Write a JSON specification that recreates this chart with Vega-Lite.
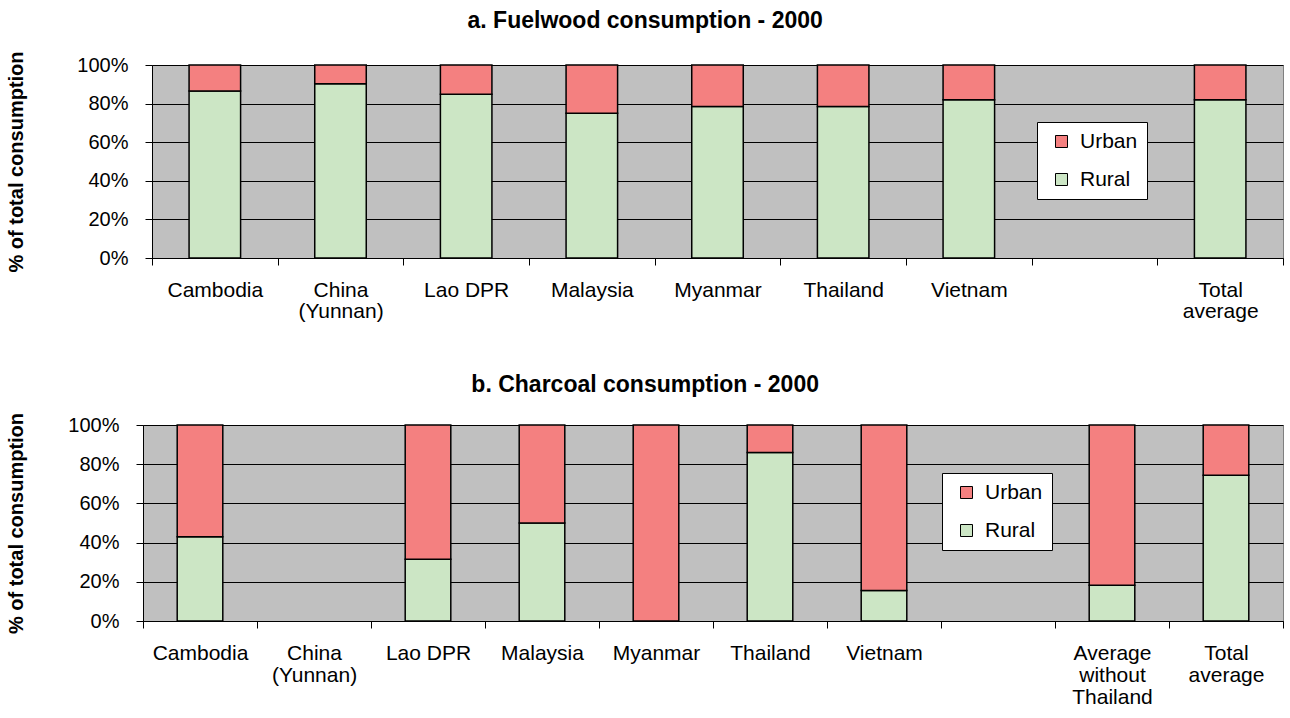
{
  "$schema": "https://vega.github.io/schema/vega-lite/v6.json",
  "padding": {"left": 6, "top": 9, "right": 4, "bottom": 4},
  "background": "white",
  "config": {
    "font": "Liberation Sans",
    "view": {"fill": "#C0C0C0", "stroke": "#808080", "strokeWidth": 1},
    "axis": {
      "labelFont": "Liberation Sans", "labelFontSize": 20, "labelColor": "black",
      "domainColor": "black", "tickColor": "black", "titleColor": "black",
      "titleFont": "Liberation Sans", "titleFontSize": 20, "titleFontWeight": "bold"
    }
  },
  "datasets": {
    "fuelwood": [
      {"country": "Cambodia", "area": "Rural", "share": 86.5},
      {"country": "Cambodia", "area": "Urban", "share": 13.5},
      {"country": "China (Yunnan)", "area": "Rural", "share": 90.3},
      {"country": "China (Yunnan)", "area": "Urban", "share": 9.7},
      {"country": "Lao DPR", "area": "Rural", "share": 84.8},
      {"country": "Lao DPR", "area": "Urban", "share": 15.2},
      {"country": "Malaysia", "area": "Rural", "share": 75},
      {"country": "Malaysia", "area": "Urban", "share": 25},
      {"country": "Myanmar", "area": "Rural", "share": 78.5},
      {"country": "Myanmar", "area": "Urban", "share": 21.5},
      {"country": "Thailand", "area": "Rural", "share": 78.5},
      {"country": "Thailand", "area": "Urban", "share": 21.5},
      {"country": "Vietnam", "area": "Rural", "share": 82},
      {"country": "Vietnam", "area": "Urban", "share": 18},
      {"country": "Total average", "area": "Rural", "share": 82},
      {"country": "Total average", "area": "Urban", "share": 18}
    ],
    "charcoal": [
      {"country": "Cambodia", "area": "Rural", "share": 43},
      {"country": "Cambodia", "area": "Urban", "share": 57},
      {"country": "Lao DPR", "area": "Rural", "share": 31.5},
      {"country": "Lao DPR", "area": "Urban", "share": 68.5},
      {"country": "Malaysia", "area": "Rural", "share": 50},
      {"country": "Malaysia", "area": "Urban", "share": 50},
      {"country": "Myanmar", "area": "Rural", "share": 0},
      {"country": "Myanmar", "area": "Urban", "share": 100},
      {"country": "Thailand", "area": "Rural", "share": 86},
      {"country": "Thailand", "area": "Urban", "share": 14},
      {"country": "Vietnam", "area": "Rural", "share": 15.5},
      {"country": "Vietnam", "area": "Urban", "share": 84.5},
      {"country": "Average without Thailand", "area": "Rural", "share": 18.2},
      {"country": "Average without Thailand", "area": "Urban", "share": 81.8},
      {"country": "Total average", "area": "Rural", "share": 74.4},
      {"country": "Total average", "area": "Urban", "share": 25.6}
    ]
  },
  "spacing": 51,
  "resolve": {"scale": {"color": "independent"}, "legend": {"color": "independent"}},
  "vconcat": [
    {
      "spacing": 0,
      "bounds": "flush",
      "hconcat": [
        {
          "width": 9,
          "height": 1,
          "view": {"fill": null, "stroke": null},
          "data": {"values": []},
          "mark": "rect",
          "encoding": {}
        },
        {
          "width": 1131,
          "height": 193,
          "title": {"text": "a. Fuelwood consumption - 2000", "fontSize": 23, "fontWeight": "bold", "anchor": "middle", "frame": "bounds", "baseline": "alphabetic", "offset": 0, "color": "black", "font": "Liberation Sans"},
          "data": {"name": "fuelwood"},
          "mark": {"type": "bar", "width": {"band": 0.41}, "stroke": "black", "strokeWidth": 1.5},
          "encoding": {
            "x": {
              "field": "country", "type": "nominal",
              "scale": {"domain": ["Cambodia", "China (Yunnan)", "Lao DPR", "Malaysia", "Myanmar", "Thailand", "Vietnam", " ", "Total average"], "paddingInner": 0, "paddingOuter": 0},
              "axis": {"title": null, "labelAngle": 0, "labelFontSize": 21, "tickBand": "extent", "tickSize": 7, "labelPadding": 14, "labelLineHeight": 21, "labelOverlap": false, "grid": false,
                "labelExpr": "datum.label == 'China (Yunnan)' ? ['China', '(Yunnan)'] : datum.label == 'Total average' ? ['Total', 'average'] : datum.label"}
            },
            "y": {
              "field": "share", "type": "quantitative", "stack": "zero",
              "scale": {"domain": [0, 100]},
              "axis": {"title": "% of total consumption", "values": [0, 20, 40, 60, 80, 100], "labelExpr": "datum.value + '%'", "tickSize": 7, "labelPadding": 17, "titlePadding": 50, "grid": true, "gridColor": "black", "gridWidth": 1}
            },
            "order": {"field": "area", "sort": "ascending"},
            "color": {
              "field": "area", "type": "nominal",
              "scale": {"domain": ["Urban", "Rural"], "range": ["#F48080", "#CCE6C5"]},
              "legend": {"title": null, "orient": "none", "legendX": 894, "legendY": 57, "fillColor": "white", "strokeColor": "black", "padding": 9, "symbolType": "square", "symbolSize": 144, "symbolStrokeColor": "black", "symbolStrokeWidth": 1, "labelFontSize": 21, "labelFont": "Liberation Sans", "labelColor": "black", "rowPadding": 16, "symbolOffset": 5, "labelOffset": 8}
            }
          }
        }
      ]
    },
    {
      "width": 1140,
      "height": 196,
      "title": {"text": "b. Charcoal consumption - 2000", "fontSize": 23, "fontWeight": "bold", "anchor": "middle", "frame": "bounds", "baseline": "alphabetic", "offset": -3, "color": "black", "font": "Liberation Sans"},
      "data": {"name": "charcoal"},
      "mark": {"type": "bar", "width": {"band": 0.40}, "stroke": "black", "strokeWidth": 1.5},
      "encoding": {
        "x": {
          "field": "country", "type": "nominal",
          "scale": {"domain": ["Cambodia", "China (Yunnan)", "Lao DPR", "Malaysia", "Myanmar", "Thailand", "Vietnam", " ", "Average without Thailand", "Total average"], "paddingInner": 0, "paddingOuter": 0},
          "axis": {"title": null, "labelAngle": 0, "labelFontSize": 21, "tickBand": "extent", "tickSize": 7, "labelPadding": 14, "labelLineHeight": 22, "labelOverlap": false, "grid": false,
            "labelExpr": "datum.label == 'China (Yunnan)' ? ['China', '(Yunnan)'] : datum.label == 'Total average' ? ['Total', 'average'] : datum.label == 'Average without Thailand' ? ['Average', 'without', 'Thailand'] : datum.label"}
        },
        "y": {
          "field": "share", "type": "quantitative", "stack": "zero",
          "scale": {"domain": [0, 100]},
          "axis": {"title": "% of total consumption", "values": [0, 20, 40, 60, 80, 100], "labelExpr": "datum.value + '%'", "tickSize": 7, "labelPadding": 17, "titlePadding": 41, "grid": true, "gridColor": "black", "gridWidth": 1}
        },
        "order": {"field": "area", "sort": "ascending"},
        "color": {
          "field": "area", "type": "nominal",
          "scale": {"domain": ["Urban", "Rural"], "range": ["#F48080", "#CCE6C5"]},
          "legend": {"title": null, "orient": "none", "legendX": 799, "legendY": 48, "fillColor": "white", "strokeColor": "black", "padding": 9, "symbolType": "square", "symbolSize": 144, "symbolStrokeColor": "black", "symbolStrokeWidth": 1, "labelFontSize": 21, "labelFont": "Liberation Sans", "labelColor": "black", "rowPadding": 16, "symbolOffset": 5, "labelOffset": 8}
        }
      }
    }
  ]
}
